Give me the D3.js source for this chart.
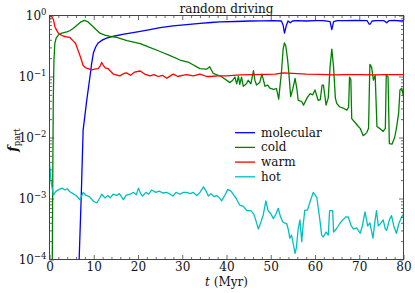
<!DOCTYPE html>
<html><head><meta charset="utf-8">
<script src="https://cdn.jsdelivr.net/npm/d3@7"></script>
<style>body{margin:0;background:#fff}svg{display:block}svg text{font-family:"DejaVu Serif","Liberation Serif","Noto Serif",serif !important;fill:#111}</style>
</head><body><svg id="c" width="415" height="293"></svg>
<script>
// ---- data (y values are log10 of the particle fraction) ----
const title = "random driving";
const xTickValues = [0, 10, 20, 30, 40, 50, 60, 70, 80];
const yDecades = [-4, -3, -2, -1, 0];
const seriesNames = ["molecular", "cold", "warm", "hot"];

const molecularT = [6.7,7.2,7.6,8.4,9.15,9.5,9.9,10.4,11.0,12.0, 12.9,14.5,16.5,18.2,20.5,22.7,25,27.9,31,34, 36.5,38.5,42,45.3,48,50.5,52.4,52.8,53.1,53.5, 53.9,54.4,54.9,56,58,60,62,63.4,63.8,64.2, 65,67,69,71.8,72.2,72.5,72.9,74,75.6,76.2, 76.7,78,79.3,80];
const molecularExp = [-4,-2.9,-1.88,-1.4,-1.0,-0.8,-0.62,-0.52,-0.45,-0.4, -0.37,-0.34,-0.31,-0.29,-0.26,-0.23,-0.2,-0.17,-0.15,-0.13, -0.115,-0.105,-0.098,-0.09,-0.088,-0.085,-0.09,-0.16,-0.29,-0.17, -0.09,-0.12,-0.09,-0.085,-0.09,-0.085,-0.083,-0.1,-0.23,-0.1, -0.085,-0.085,-0.08,-0.085,-0.14,-0.14,-0.09,-0.085,-0.085,-0.12, -0.085,-0.08,-0.09,-0.085];

const coldT = [0.63,0.75,0.86,1.0,1.2,1.5,2.0,2.8,3.9,4.6, 5.4,6.2,7.0,7.9,8.6,9.5,10.5,11.4,12.5,13.5, 15.2,17.5,20.5,22.5,25,27,29.5,31.5,34,35.5, 36.2,37,38.8,40.8,41.4,41.9,42.3,42.7,43.0,43.4, 43.8,44.5,44.9,45.5,46.1,46.4,46.8,47.5,48.0,48.7, 49.3,49.8,50.6,51.3,51.8,52.1,52.4,52.8,53.1,53.4, 53.8,54.1,54.5,55.0,55.5,55.9,56.2,57.0,57.4,58.2, 58.9,59.5,60.0,60.7,61.2,61.6,61.9,62.5,63.0,63.4, 63.8,64.2,64.6,64.9,65.6,66.4,67.2,67.6,67.8,68.1, 68.3,69.0,69.8,70.2,70.9,71.7,72.1,72.4,72.8,73.2, 73.6,74.0,74.6,75.4,75.9,76.1,76.5,76.8,77.4,78.0, 78.4,78.9,79.2,79.6,80.0];
const coldExp = [-4.0,-2.5,-1.38,-0.75,-0.46,-0.37,-0.32,-0.29,-0.27,-0.25, -0.21,-0.16,-0.11,-0.08,-0.1,-0.16,-0.23,-0.29,-0.32,-0.34, -0.36,-0.41,-0.46,-0.52,-0.59,-0.65,-0.73,-0.77,-0.87,-0.88, -0.84,-0.95,-1.0,-1.1,-1.06,-1.01,-1.12,-1.0,-1.13,-1.01, -1.16,-1.12,-1.06,-1.12,-0.905,-1.06,-1.14,-1.1,-0.96,-1.16, -1.14,-1.19,-1.21,-1.2,-1.37,-1.15,-0.95,-0.55,-0.45,-0.5, -0.72,-0.95,-1.33,-1.2,-1.03,-1.2,-1.39,-1.41,-1.47,-1.35, -1.28,-1.3,-1.22,-1.39,-1.38,-1.14,-1.14,-1.47,-1.35,-0.85, -0.55,-0.85,-1.35,-1.44,-1.5,-1.52,-1.55,-1.5,-1.01,-1.05, -1.69,-1.75,-1.82,-1.85,-1.97,-1.92,-1.85,-0.8,-0.85,-1.06, -0.98,-1.82,-1.85,-1.9,-1.85,-0.98,-1.0,-2.1,-2.11,-2.0, -1.85,-1.6,-1.22,-1.19,-1.33];

const warmT = [0,0.5,0.9,1.2,1.6,2.0,2.6,3.2,3.9,4.6, 5.4,5.9,6.5,7.0,7.6,8.2,8.8,9.5,10.2,11.0, 11.5,11.8,12.2,12.6,13.2,14.4,15.9,16.8,17.4,18.3, 19.2,20.5,21.5,22.7,23.6,24.6,25.5,26.5,27.3,28.0, 29.0,30.0,31.0,32.5,34.0,35.5,36.3,38,40,43, 46,49,51,52.8,55,58,61,64,67,70, 73,76,80];
const warmExp = [0,-0.02,-0.07,-0.18,-0.24,-0.29,-0.32,-0.34,-0.35,-0.36, -0.42,-0.46,-0.58,-0.68,-0.82,-0.86,-0.87,-0.89,-0.88,-0.87, -0.82,-0.77,-0.82,-0.86,-0.87,-0.96,-0.99,-0.95,-0.94,-0.98, -0.93,-0.91,-0.96,-0.99,-0.97,-1.0,-0.98,-1.03,-0.99,-0.96, -1.0,-0.98,-0.97,-0.99,-0.96,-1.0,-1.0,-0.99,-0.99,-0.975, -0.97,-0.965,-0.96,-0.94,-0.95,-0.96,-0.965,-0.975,-0.97,-0.97, -0.975,-0.97,-0.97];

const hotT = [0,0.2,0.4,0.9,1.5,2.2,2.8,3.5,4.0,4.6, 5.3,6.0,6.9,7.6,8.3,9.0,10.0,10.7,11.3,11.8, 12.5,13.2,13.7,14.4,15.2,15.8,16.7,17.3,18.2,19.0, 19.6,20.1,20.6,21.0,21.8,22.4,23.1,24.0,24.8,25.6, 26.5,27.3,27.9,28.6,29.5,30.2,31.0,31.8,32.5,33.3, 34.0,34.8,35.4,35.9,36.5,37.2,37.8,38.4,38.9,39.6, 40.3,41.0,41.5,42.2,43.0,43.8,44.6,45.5,46.2,46.8, 47.2,47.8,48.3,48.9,49.4,50.0,50.6,51.2,51.7,52.2, 52.7,53.1,53.6,54.0,54.3,54.7,55.1,55.5,55.8,56.2, 56.6,57.0,57.3,57.7,58.3,58.9,59.6,60.4,61.1,61.5, 61.9,62.5,63.0,63.3,64.0,64.2,64.8,65.6,66.3,67.0, 67.5,68.2,68.7,69.4,70.2,70.7,71.3,71.9,72.4,73.1, 73.5,73.9,74.3,74.7,75.4,75.9,76.2,76.8,77.3,77.8, 78.4,79.0,79.6,80.0];
const hotExp = [-2.42,-2.6,-2.75,-2.94,-2.88,-2.85,-2.83,-2.86,-2.84,-2.89, -2.92,-2.95,-3.02,-2.9,-2.95,-2.97,-3.05,-3.07,-3.0,-2.93, -2.99,-2.95,-2.99,-2.93,-2.95,-2.92,-3.02,-2.95,-2.93,-2.9, -2.94,-2.83,-2.92,-2.96,-2.9,-2.93,-2.86,-2.9,-2.88,-2.91, -2.9,-2.93,-2.96,-2.9,-2.93,-2.9,-2.9,-2.92,-2.9,-2.95, -2.9,-2.81,-2.88,-2.96,-2.92,-2.97,-2.95,-2.99,-3.04,-2.95, -2.85,-2.88,-2.93,-3.0,-3.11,-3.13,-3.2,-3.2,-3.26,-3.4, -3.5,-3.38,-3.27,-3.04,-3.2,-3.25,-3.33,-3.25,-3.16,-3.3, -3.38,-3.4,-3.41,-3.52,-3.65,-3.6,-3.75,-3.9,-3.8,-3.5, -3.35,-3.71,-3.45,-3.19,-3.19,-3.05,-2.9,-2.98,-3.35,-3.6, -3.63,-3.55,-3.6,-3.2,-3.2,-3.55,-3.5,-3.41,-3.35,-3.3, -3.3,-3.45,-3.5,-3.48,-3.57,-3.45,-3.22,-3.45,-3.4,-3.65, -3.4,-3.2,-3.45,-3.42,-3.35,-3.5,-3.52,-3.35,-3.28,-3.45, -3.57,-3.4,-3.3,-3.25];

// ---- styling ----
const FONT = '"DejaVu Serif","Liberation Serif","Noto Serif",serif';
const colors = {molecular: "#0000ff", cold: "#008000", warm: "#ff0000", hot: "#00bfbf"};
const L = 49.5, R = 403.5, T = 15.5, B = 259.5;

const svg = d3.select("#c");
const x = d3.scaleLinear().domain([0, 80]).range([L, R]);
const y = d3.scaleLinear().domain([-4, 0]).range([B, T]);

const series = [
  {name: "molecular", t: molecularT, v: molecularExp},
  {name: "cold", t: coldT, v: coldExp},
  {name: "warm", t: warmT, v: warmExp},
  {name: "hot", t: hotT, v: hotExp}
];

svg.append("defs").append("clipPath").attr("id", "clip")
  .append("rect").attr("x", L).attr("y", T).attr("width", R - L).attr("height", B - T);

const line = d3.line().x(d => x(d[0])).y(d => y(d[1]));
const g = svg.append("g").attr("clip-path", "url(#clip)");
series.forEach(s => {
  g.append("path").datum(s.t.map((t, i) => [t, s.v[i]]))
    .attr("d", line).attr("fill", "none")
    .attr("stroke", colors[s.name]).attr("stroke-width", 1.3)
    .attr("stroke-linejoin", "round");
});

// ---- axes ----
const frameColor = "#444";
const xMinor = d3.range(0, 81, 2).filter(v => v % 10 !== 0);
const yMinor = [];
for (let n = -4; n < 0; n++) for (let k = 2; k <= 9; k++) yMinor.push(n + Math.log10(k));

function styleAxis(sel) {
  sel.attr("font-family", FONT);
  sel.select(".domain").remove();
  sel.selectAll(".tick line").attr("stroke", frameColor).attr("stroke-width", 0.8);
}
function addAxis(axisFn, scale, vals, size, tr) {
  const a = svg.append("g").attr("transform", tr)
    .call(axisFn(scale).tickValues(vals).tickSizeInner(-size).tickSizeOuter(0).tickFormat(""));
  styleAxis(a);
  return a;
}
// bottom (with labels)
const axB = svg.append("g").attr("transform", `translate(0,${B})`)
  .call(d3.axisBottom(x).tickValues(xTickValues).tickSizeInner(-4.5).tickSizeOuter(0).tickPadding(3).tickFormat(d3.format("d")));
styleAxis(axB);
axB.selectAll("text").attr("font-size", 12).attr("fill", "#111").attr("dy", "0.71em");
addAxis(d3.axisBottom, x, xMinor, 2.5, `translate(0,${B})`);
addAxis(d3.axisTop, x, xTickValues, 4.5, `translate(0,${T})`);
addAxis(d3.axisTop, x, xMinor, 2.5, `translate(0,${T})`);
addAxis(d3.axisLeft, y, yDecades, 4.5, `translate(${L},0)`);
addAxis(d3.axisLeft, y, yMinor, 2.5, `translate(${L},0)`);
addAxis(d3.axisRight, y, yDecades, 4.5, `translate(${R},0)`);
addAxis(d3.axisRight, y, yMinor, 2.5, `translate(${R},0)`);

// y tick labels as 10^n
yDecades.forEach(n => {
  const t = svg.append("text").attr("x", L - 3).attr("y", y(n) + 4.5)
    .attr("text-anchor", "end").attr("font-size", 12).attr("font-family", FONT);
  t.append("tspan").text("10");
  t.append("tspan").attr("font-size", 8.5).attr("dy", -5.5).text(n < 0 ? "\u2212" + (-n) : String(n));
});

// frame
svg.append("rect").attr("x", L).attr("y", T).attr("width", R - L).attr("height", B - T)
  .attr("fill", "none").attr("stroke", frameColor).attr("stroke-width", 1);

// title
svg.append("text").attr("x", (L + R) / 2).attr("y", 12.5).attr("text-anchor", "middle")
  .attr("font-size", 12).attr("font-family", FONT).text(title);

// x label
const xl = svg.append("text").attr("x", (L + R) / 2).attr("y", 286).attr("text-anchor", "middle")
  .attr("font-size", 12).attr("font-family", FONT);
xl.append("tspan").attr("font-style", "italic").text("t");
xl.append("tspan").text(" (Myr)");

// y label
const yl = svg.append("text").attr("transform", "translate(17,140) rotate(-90)").attr("text-anchor", "middle")
  .attr("font-size", 13).attr("font-family", FONT);
yl.append("tspan").attr("font-style", "italic").attr("font-weight", "bold").text("f");
yl.append("tspan").attr("font-size", 8.5).attr("dy", 3).text("part");

// legend
const lg = svg.append("g");
seriesNames.forEach((name, i) => {
  const yy = 132.7 + i * 14.7;
  lg.append("line").attr("x1", 235).attr("x2", 255).attr("y1", yy).attr("y2", yy)
    .attr("stroke", colors[name]).attr("stroke-width", 1.3);
  lg.append("text").attr("x", 261).attr("y", yy + 4).attr("font-size", 12).attr("font-family", FONT).text(name);
});
</script>
</body></html>
